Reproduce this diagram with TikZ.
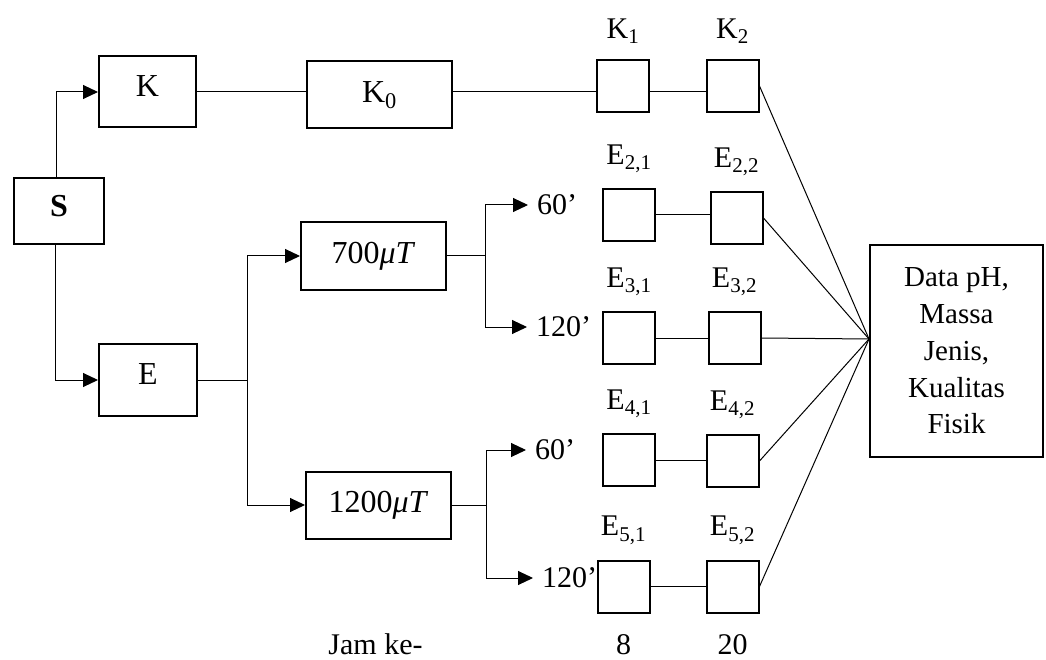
\documentclass[tikz,border=0pt]{standalone}
\usepackage{fontspec}
\setmainfont{Liberation Serif}
\usetikzlibrary{positioning,arrows.meta}

\tikzset{
  blok/.style={draw, line width=2pt, inner sep=0pt, font=\fontsize{32}{37}\selectfont},
  kotak/.style={draw, line width=2pt, minimum size=52pt, inner sep=0pt},
  lbl/.style={inner sep=0pt, font=\fontsize{30}{36}\selectfont},
  waktu/.style={lbl, anchor=west, inner xsep=9pt},
  garis/.style={line width=1pt},
  panah/.style={garis, -{Triangle[length=15pt,width=14pt]}},
}

\begin{document}
\begin{tikzpicture}[x=1pt, y=-1pt]
  \useasboundingbox (0,0) rectangle (1046,660);

  % main blocks: sample, control, exposure and the two field strengths
  \node[blok, minimum width=90pt, minimum height=66pt, text depth=10pt] (S) at (59,211) {\textbf{S}};
  \node[blok, minimum width=97pt, minimum height=71pt, text depth=12pt] (K) at (147.5,92) {K};
  \node[blok, minimum width=145pt, minimum height=67pt] (K0) at (379.5,95) {K\textsubscript{0}};
  \node[blok, minimum width=98pt, minimum height=72pt, text depth=12pt] (E) at (148,380) {E};
  \node[blok, minimum width=145pt, minimum height=67pt] (T700) at (373.5,256) {700\textit{μT}};
  \node[blok, minimum width=145pt, minimum height=67pt] (T1200) at (378.5,505) {1200\textit{μT}};
  \node[blok, minimum width=173pt, minimum height=212pt, align=center,
        font=\fontsize{29}{36.7}\selectfont] (data) at (956.5,351)
        {Data pH,\\Massa\\Jenis,\\Kualitas\\Fisik};

  % exposure times
  \node[waktu] (m60a) at (528,205) {60’};
  \node[waktu] (m120a) at (527,327) {120’};
  \node[waktu] (m60b) at (526,450) {60’};
  \node[waktu] (m120b) at (533,578) {120’};

  % observation boxes, hour 8 and hour 20
  \node[kotak] (K1) at (623,86) {};
  \node[kotak] (K2) at (732.5,86) {};
  \node[kotak] (E21) at (629,215) {};
  \node[kotak] (E22) at (736.5,218) {};
  \node[kotak] (E31) at (629,338) {};
  \node[kotak] (E32) at (734.5,338) {};
  \node[kotak] (E41) at (629,460) {};
  \node[kotak] (E42) at (732.5,461) {};
  \node[kotak] (E51) at (623.5,586.5) {};
  \node[kotak] (E52) at (732.5,586.5) {};

  \node[lbl, above=15pt of K1] {K\textsubscript{1}};
  \node[lbl, above=15pt of K2] {K\textsubscript{2}};
  \node[lbl, above=15pt of E21] {E\textsubscript{2,1}};
  \node[lbl, above=15pt of E22] {E\textsubscript{2,2}};
  \node[lbl, above=15pt of E31] {E\textsubscript{3,1}};
  \node[lbl, above=15pt of E32] {E\textsubscript{3,2}};
  \node[lbl, above=15pt of E41] {E\textsubscript{4,1}};
  \node[lbl, above=15pt of E42] {E\textsubscript{4,2}};
  \node[lbl, above=15pt of E51] {E\textsubscript{5,1}};
  \node[lbl, above=15pt of E52] {E\textsubscript{5,2}};

  \node[lbl, below=21pt of E51] (jam8) {8};
  \node[lbl, below=21pt of E52] (jam20) {20};
  \node[lbl, base left=193pt of jam8] (jamke) {Jam ke-};

  % connectors
  \draw[panah] ([xshift=-3pt]S.north) |- (K.west);
  \draw[panah] ([xshift=-4pt]S.south) |- (E.west);
  \draw[garis] (K.east) -- (K.east -| K0.west);
  \draw[garis] (K0.east |- K.east) -- (K.east -| K1.west);
  \draw[garis] (K1.east |- K.east) -- (K.east -| K2.west);

  \coordinate[right=49pt of E.east] (pisahE);
  \draw[garis] (E.east) -- (pisahE);
  \draw[panah] (pisahE) |- (T700.west);
  \draw[panah] (pisahE) |- (T1200.west);

  \coordinate[right=38pt of T700.east] (pisah700);
  \draw[garis] (T700.east) -- (pisah700);
  \draw[panah] (pisah700) |- (m60a.west);
  \draw[panah] (pisah700) |- (m120a.west);

  \coordinate[right=34pt of T1200.east] (pisah1200);
  \draw[garis] (T1200.east) -- (pisah1200);
  \draw[panah] (pisah1200) |- (m60b.west);
  \draw[panah] (pisah1200) |- (m120b.west);

  \draw[garis] (E21.east) -- (E21.east -| E22.west);
  \draw[garis] (E31.east) -- (E31.east -| E32.west);
  \draw[garis] (E41.east) -- (E41.east -| E42.west);
  \draw[garis] (E51.east) -- (E51.east -| E52.west);

  % all hour-20 results meet at the data box
  \coordinate (hub) at ([yshift=12pt]data.west);
  \foreach \b in {K2,E22,E32,E42,E52}
    \draw[garis] (\b.east) -- (hub);
\end{tikzpicture}
\end{document}
